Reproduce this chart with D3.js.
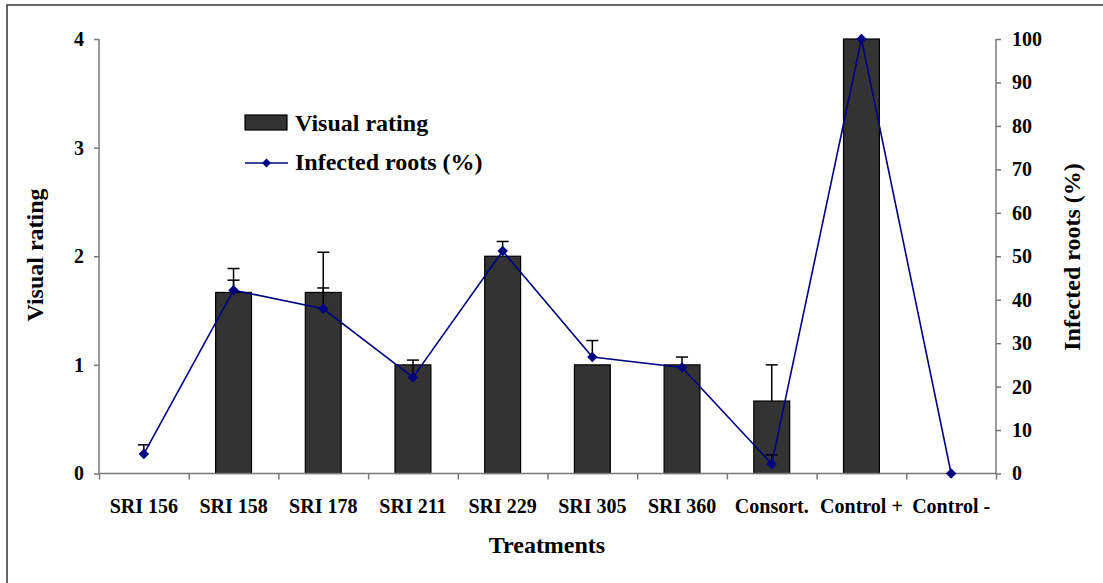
<!DOCTYPE html>
<html>
<head>
<meta charset="utf-8">
<script src="https://cdn.jsdelivr.net/npm/d3@7"></script>
<style>
  body { margin: 0; background: #fff; }
  text { font-family: "Liberation Serif", "Times New Roman", serif; font-weight: bold; fill: #000; }
</style>
</head>
<body>
<script>
// values
var categories = ["SRI 156", "SRI 158", "SRI 178", "SRI 211", "SRI 229", "SRI 305", "SRI 360", "Consort.", "Control +", "Control -"];
var ratingValues = [0, 1.667, 1.667, 1, 2, 1, 1, 0.667, 4, 0];
var ratingErrors = [0, 0.22, 0.37, 0, 0, 0, 0, 0.333, 0, 0];
var infectedValues = [4.5, 42.2, 37.9, 22.1, 51.2, 26.8, 24.4, 2.2, 100, 0];
var infectedErrors = [2.1, 2.3, 4.8, 4.0, 2.2, 3.8, 2.4, 2.1, 0, 0];
var ratingTicks = [0, 1, 2, 3, 4];
var infectedTicks = [0, 10, 20, 30, 40, 50, 60, 70, 80, 90, 100];

var W = 1103, H = 583;
var pLeft = 99, pRight = 996, pTop = 39, pBottom = 473.5;

var svg = d3.select("body").append("svg")
    .attr("width", W)
    .attr("height", H);

// outer frame (runs off the right and bottom edge)
svg.append("rect")
    .attr("x", 7).attr("y", 5)
    .attr("width", W + 20).attr("height", H + 20)
    .attr("fill", "none")
    .attr("stroke", "#333")
    .attr("stroke-width", 1.5);

var x = d3.scaleBand()
    .domain(categories)
    .range([pLeft, pRight])
    .paddingInner(0.6)
    .paddingOuter(0.3);

var xEdge = d3.scaleLinear().domain([0, categories.length]).range([pLeft, pRight]);

var yL = d3.scaleLinear().domain([0, 4]).range([pBottom, pTop]);
var yR = d3.scaleLinear().domain([0, 100]).range([pBottom, pTop]);

var cx = function(d, i) { return x(categories[i]) + x.bandwidth() / 2; };

// bars
svg.append("g").selectAll("rect")
    .data(ratingValues)
    .enter()
    .append("rect")
    .attr("x", (d, i) => x(categories[i]))
    .attr("y", d => yL(d))
    .attr("width", x.bandwidth())
    .attr("height", d => pBottom - yL(d))
    .attr("fill", "#333333")
    .attr("stroke", "#000")
    .attr("stroke-width", 1.2);

// bar error bars (plus only)
var barErr = svg.append("g").attr("stroke", "#000").attr("stroke-width", 1.5);
ratingErrors.forEach(function(e, i) {
  if (!e) return;
  var c = cx(null, i), y0 = yL(ratingValues[i]), y1 = yL(ratingValues[i] + e);
  barErr.append("line").attr("x1", c).attr("x2", c).attr("y1", y0).attr("y2", y1);
  barErr.append("line").attr("x1", c - 6).attr("x2", c + 6).attr("y1", y1).attr("y2", y1);
});

// line error bars (plus only)
var lineErr = svg.append("g").attr("stroke", "#000").attr("stroke-width", 1.5);
infectedErrors.forEach(function(e, i) {
  if (!e) return;
  var c = cx(null, i), y0 = yR(infectedValues[i]), y1 = yR(infectedValues[i] + e);
  lineErr.append("line").attr("x1", c).attr("x2", c).attr("y1", y0).attr("y2", y1);
  lineErr.append("line").attr("x1", c - 6).attr("x2", c + 6).attr("y1", y1).attr("y2", y1);
});

// axes
var axisColor = "#777";

var xTicks = svg.append("g")
    .attr("transform", "translate(0," + pBottom + ")")
    .call(d3.axisBottom(xEdge).ticks(categories.length).tickSize(6).tickFormat(""));
xTicks.selectAll("path, line").attr("stroke", axisColor).attr("stroke-width", 1.5);
xTicks.select(".domain").attr("d", "M" + pLeft + ",0H" + pRight);

var xLabels = svg.append("g")
    .attr("transform", "translate(0," + pBottom + ")")
    .call(d3.axisBottom(x).tickSize(0));
xLabels.select(".domain").remove();
xLabels.selectAll("text")
    .attr("y", 39).attr("dy", 0)
    .style("font-size", "20px")
    .style("font-family", "'Liberation Serif', serif")
    .style("font-weight", "bold")
    .attr("fill", "#000");

var gL = svg.append("g")
    .attr("transform", "translate(" + pLeft + ",0)")
    .call(d3.axisLeft(yL).tickValues(ratingTicks).tickSize(5).tickPadding(10).tickFormat(d3.format("d")));
gL.selectAll("path, line").attr("stroke", axisColor).attr("stroke-width", 1.5);
gL.select(".domain").attr("d", "M0," + pBottom + "V" + pTop);
gL.selectAll("text")
    .style("font-size", "20px")
    .style("font-family", "'Liberation Serif', serif")
    .style("font-weight", "bold")
    .attr("fill", "#000");

var gR = svg.append("g")
    .attr("transform", "translate(" + pRight + ",0)")
    .call(d3.axisRight(yR).tickValues(infectedTicks).tickSize(5).tickPadding(11).tickFormat(d3.format("d")));
gR.selectAll("path, line").attr("stroke", axisColor).attr("stroke-width", 1.5);
gR.select(".domain").attr("d", "M0," + pBottom + "V" + pTop);
gR.selectAll("text")
    .style("font-size", "20px")
    .style("font-family", "'Liberation Serif', serif")
    .style("font-weight", "bold")
    .attr("fill", "#000");

// infected roots line
var line = d3.line()
    .x((d, i) => cx(d, i))
    .y(d => yR(d));

svg.append("path")
    .datum(infectedValues)
    .attr("d", line)
    .attr("fill", "none")
    .attr("stroke", "#000080")
    .attr("stroke-width", 1.6);

var diamond = d3.symbol().type(d3.symbolDiamond2).size(70);
svg.append("g").selectAll("path")
    .data(infectedValues)
    .enter()
    .append("path")
    .attr("d", diamond)
    .attr("transform", (d, i) => "translate(" + cx(d, i) + "," + yR(d) + ")")
    .attr("fill", "#000080");

// axis titles
svg.append("text")
    .attr("transform", "translate(43,255) rotate(-90)")
    .attr("text-anchor", "middle")
    .style("font-size", "24px")
    .text("Visual rating");

svg.append("text")
    .attr("transform", "translate(1080,257) rotate(-90)")
    .attr("text-anchor", "middle")
    .style("font-size", "24px")
    .text("Infected roots (%)");

svg.append("text")
    .attr("x", 547).attr("y", 553)
    .attr("text-anchor", "middle")
    .style("font-size", "24px")
    .text("Treatments");

// legend
var lg = svg.append("g");
lg.append("rect")
    .attr("x", 245).attr("y", 115)
    .attr("width", 42).attr("height", 15)
    .attr("fill", "#333333")
    .attr("stroke", "#000")
    .attr("stroke-width", 1.2);
lg.append("text")
    .attr("x", 295).attr("y", 131)
    .style("font-size", "24px")
    .text("Visual rating");
lg.append("line")
    .attr("x1", 245).attr("x2", 288)
    .attr("y1", 163).attr("y2", 163)
    .attr("stroke", "#000080")
    .attr("stroke-width", 1.6);
lg.append("path")
    .attr("d", d3.symbol().type(d3.symbolDiamond2).size(50))
    .attr("transform", "translate(266.5,163)")
    .attr("fill", "#000080");
lg.append("text")
    .attr("x", 295).attr("y", 170)
    .style("font-size", "24px")
    .text("Infected roots (%)");
</script>
</body>
</html>
